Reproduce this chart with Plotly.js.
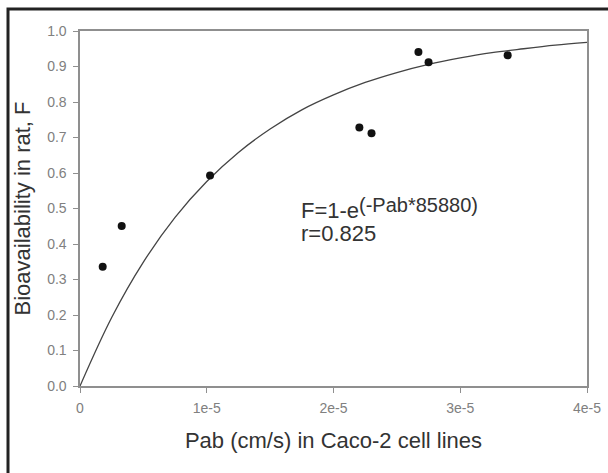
<!DOCTYPE html>
<html>
<head>
<meta charset="utf-8">
<script src="https://cdn.plot.ly/plotly-3.0.1.min.js"></script>
<style>html,body{margin:0;padding:0;background:#fff;}#chart{width:608px;height:473px;}</style>
</head>
<body>
<div id="chart"></div>
<script>
// Measured points: Pab (cm/s) vs bioavailability F
const pabValues = [1.79e-6, 3.29e-6, 1.026e-5, 2.204e-5, 2.30e-5, 2.67e-5, 2.75e-5, 3.374e-5];
const fValues = [0.336, 0.451, 0.593, 0.728, 0.712, 0.941, 0.912, 0.932];

// Fitted curve
const curveX = [0, 2.5e-6, 5e-6, 7.5e-6, 1e-5, 1.25e-5, 1.5e-5, 1.75e-5, 2e-5, 2.25e-5, 2.5e-5, 2.75e-5, 3e-5, 3.25e-5, 3.5e-5, 3.75e-5, 4e-5];
const curveY = [0, 0.193, 0.349, 0.475, 0.576, 0.658, 0.724, 0.778, 0.820, 0.855, 0.883, 0.906, 0.924, 0.939, 0.950, 0.960, 0.968];

const xTickVals = [0, 1e-5, 2e-5, 3e-5, 4e-5];
const xTickText = ['0', '1e-5', '2e-5', '3e-5', '4e-5'];
const yTickVals = [0, 0.1, 0.2, 0.3, 0.4, 0.5, 0.6, 0.7, 0.8, 0.9, 1.0];

const FONT = 'Liberation Sans, Arial, sans-serif';

const traces = [
  {x: curveX, y: curveY, type: 'scatter', mode: 'lines',
   line: {color: '#444', width: 1.3, shape: 'spline', smoothing: 1}, hoverinfo: 'skip'},
  {x: pabValues, y: fValues, type: 'scatter', mode: 'markers',
   marker: {color: '#111', size: 8}}
];

const axisCommon = {
  showgrid: false, zeroline: false, showline: true, mirror: true,
  linecolor: '#8f8f8f', linewidth: 1.6,
  ticks: 'outside', ticklen: 5, tickcolor: '#8f8f8f', tickwidth: 1,
  tickfont: {family: FONT, size: 14, color: '#808080'}
};

const layout = {
  width: 608, height: 473,
  margin: {l: 80, r: 21, t: 31, b: 87},
  paper_bgcolor: '#fff', plot_bgcolor: '#fff',
  showlegend: false,
  font: {family: FONT},
  xaxis: Object.assign({}, axisCommon, {
    range: [0, 4e-5], tickvals: xTickVals, ticktext: xTickText,
    ticklabelstandoff: 4,
    title: {text: 'Pab (cm/s) in Caco-2 cell lines', font: {family: FONT, size: 22, color: '#333'}, standoff: 17}
  }),
  yaxis: Object.assign({}, axisCommon, {
    range: [0, 1.0], tickvals: yTickVals, tickformat: '.1f',
    ticklabelstandoff: 4,
    title: {text: 'Bioavailability in rat, F', font: {family: FONT, size: 22, color: '#333'}, standoff: 10}
  }),
  annotations: [
    {xref: 'paper', yref: 'paper', x: 0.432, y: 0.493, xanchor: 'left', yanchor: 'middle',
     showarrow: false, text: 'F=1-e', font: {family: FONT, size: 22, color: '#333'}},
    {xref: 'paper', yref: 'paper', x: 0.546, y: 0.510, xanchor: 'left', yanchor: 'middle',
     showarrow: false, text: '(-Pab*85880)', font: {family: FONT, size: 20, color: '#333'}},
    {xref: 'paper', yref: 'paper', x: 0.432, y: 0.429, xanchor: 'left', yanchor: 'middle',
     showarrow: false, text: 'r=0.825', font: {family: FONT, size: 22, color: '#333'}}
  ],
  shapes: [{
    type: 'rect', xref: 'paper', yref: 'paper',
    x0: -0.142, x1: 1.2, y0: -0.4, y1: 1.062,
    line: {color: '#222', width: 3}, fillcolor: 'rgba(0,0,0,0)', layer: 'above'
  }]
};

Plotly.newPlot('chart', traces, layout, {displayModeBar: false, staticPlot: true});
</script>
</body>
</html>
